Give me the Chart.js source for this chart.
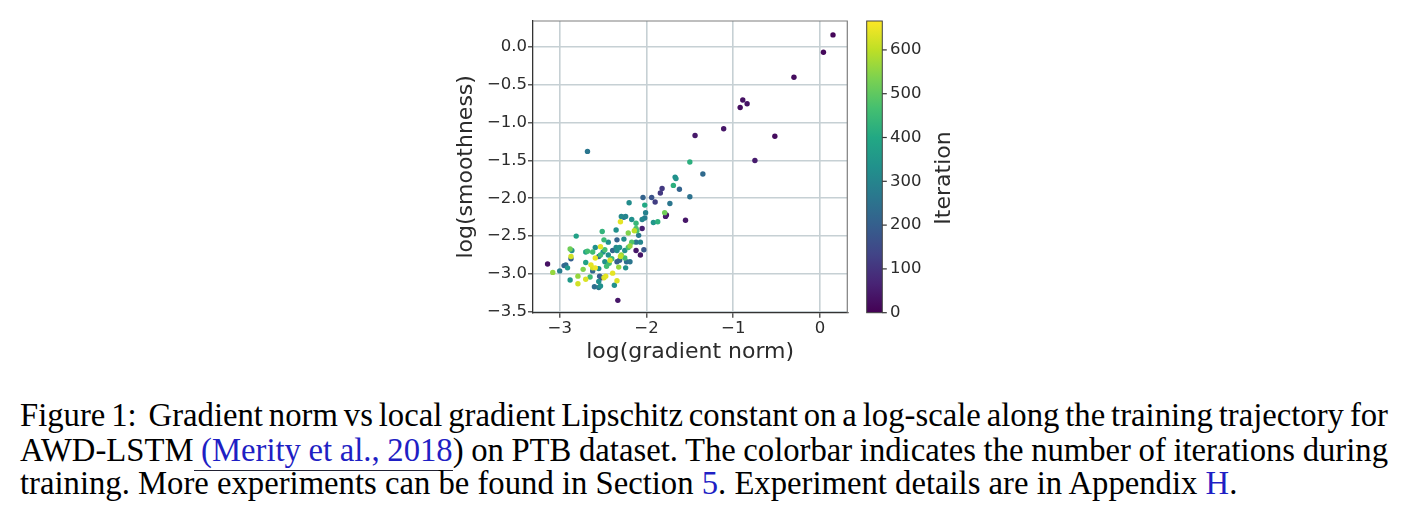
<!DOCTYPE html>
<html>
<head>
<meta charset="utf-8">
<script src="https://cdn.jsdelivr.net/npm/chart.js@4.4.0/dist/chart.umd.min.js"></script>
<style>
  body { margin: 0; background: #fff; width: 1408px; height: 507px; overflow: hidden; position: relative; }
  #wrap { position: absolute; left: 0; top: 0; width: 1408px; height: 380px; }
  .cap { position: absolute; left: 20px; width: 1368px; font-family: "Liberation Serif", "Times New Roman", serif;
         font-size: 32.7px; line-height: 34.5px; color: #000; }
  .j { text-align: justify; text-align-last: justify; word-spacing: -3px; }
  .lk { color: #1f1fc4; border-bottom: 1px solid #223; padding-bottom: 2px; }
  .b { color: #1f1fc4; }
</style>
</head>
<body>
<div id="wrap"><canvas id="chart" width="1408" height="380"></canvas></div>
<div class="cap j" style="top:397.7px">Figure 1:&nbsp; Gradient norm vs local gradient Lipschitz constant on a log-scale along the training trajectory for</div>
<div class="cap j" style="top:432.7px">AWD-LSTM<span class="lk"> (Merity et al., 2018</span>) on PTB dataset. The colorbar indicates the number of iterations during</div>
<div class="cap" style="top:466.2px">training. More experiments can be found in Section <span class="b">5</span>. Experiment details are in Appendix <span class="b">H</span>.</div>
<script>
// data: log(gradient norm), log(smoothness), iteration
let gradNorm = [
  0.15, 0.04, -0.30, -0.89, -0.92, -0.84, -1.11, -1.44, -0.52, -0.75, -2.68, -1.50, -1.35,
  -1.67, -1.66, -1.69, -1.62, -1.82, -1.84, -1.50, -2.04, -1.94, -1.90, -1.73, -2.20, -2.02,
  -2.01, -1.79, -1.77, -1.78, -1.55, -1.87, -1.92, -2.02, -2.05, -2.17, -2.29, -2.26, -2.24,
  -2.30, -2.12, -2.12, -2.14, -2.11, -2.05, -2.35, -2.51, -2.21, -2.09, -2.81, -2.34, -2.26,
  -2.44, -2.49, -2.17, -2.12, -2.07, -2.19, -2.21, -2.12, -2.07, -2.03, -2.35, -2.31, -2.39,
  -2.34, -2.29, -2.25, -2.23, -2.19, -2.88, -2.86, -2.87, -2.87, -2.70, -2.68, -2.62, -2.59,
  -2.53, -2.50, -2.48, -2.59, -2.55, -2.53, -2.42, -2.40, -2.48, -2.46, -2.43, -2.34, -2.32,
  -2.24, -2.73, -2.70, -2.64, -2.62, -2.59, -2.55, -2.62, -2.54, -2.52, -2.49, -2.47, -2.39,
  -2.34, -2.37, -3.14, -3.08, -3.00, -2.95, -2.93, -2.91, -2.88, -2.79, -2.79, -2.70, -2.65,
  -2.60, -2.55, -2.53, -2.55, -2.33, -2.44, -2.31, -2.30, -2.25
];
let smoothness = [
  0.16, -0.07, -0.40, -0.70, -0.80, -0.75, -1.08, -1.17, -1.18, -1.50, -1.38, -1.52, -1.68,
  -1.72, -1.74, -1.83, -1.88, -1.87, -1.93, -1.98, -1.99, -1.99, -2.05, -2.07, -2.06, -2.09,
  -2.19, -2.19, -2.22, -2.24, -2.29, -2.31, -2.32, -2.26, -2.28, -2.28, -2.24, -2.25, -2.24,
  -2.31, -2.33, -2.40, -2.43, -2.43, -2.40, -2.42, -2.44, -2.46, -2.49, -2.50, -2.55, -2.54,
  -2.58, -2.55, -2.58, -2.58, -2.58, -2.63, -2.65, -2.69, -2.75, -2.68, -2.65, -2.65, -2.69,
  -2.69, -2.75, -2.79, -2.84, -2.84, -2.67, -2.69, -2.77, -2.80, -2.71, -2.70, -2.71, -2.65,
  -2.64, -2.71, -2.68, -2.79, -2.77, -2.75, -2.82, -2.80, -2.84, -2.90, -2.86, -2.84, -2.91,
  -2.92, -2.94, -2.85, -2.88, -2.92, -2.92, -2.93, -2.96, -3.03, -3.05, -3.05, -3.03, -2.99,
  -3.09, -3.15, -2.87, -2.98, -2.96, -2.89, -2.88, -2.92, -3.08, -3.03, -3.13, -3.07, -3.04,
  -3.17, -3.18, -3.16, -3.10, -3.35, -2.75, -2.82, -2.77, -2.69
];
let iteration = [
  10, 15, 20, 30, 25, 35, 40, 45, 20, 50, 260, 420, 230,
  330, 340, 420, 210, 110, 110, 250, 210, 170, 120, 260, 320, 400,
  290, 520, 30, 50, 40, 420, 350, 280, 300, 330, 310, 230, 300,
  640, 440, 480, 600, 470, 60, 330, 430, 540, 270, 380, 210, 320,
  330, 450, 480, 270, 300, 560, 470, 40, 40, 180, 320, 340, 220,
  330, 560, 460, 240, 260, 520, 330, 620, 200, 380, 460, 460, 330,
  640, 330, 470, 640, 230, 450, 620, 450, 330, 460, 460, 200, 560,
  330, 540, 380, 640, 620, 650, 330, 220, 200, 60, 630, 640, 640,
  630, 330, 30, 560, 280, 220, 230, 350, 360, 560, 620, 630, 450,
  240, 270, 330, 330, 40, 330, 210, 600, 330
];
let xTicksRange = [-3.308, 0.315];
let yTicksRange = [-3.513, 0.344];
let iterRange = [0, 666];

// viridis colormap anchors (0, 0.1, ... 1)
const viridisStops = ['#440154', '#482475', '#414487', '#355f8d', '#2a788e', '#21918c',
                      '#22a884', '#44bf70', '#7ad151', '#bddf26', '#fde725'];

function hexToRgb(h) {
    return [parseInt(h.substr(1, 2), 16), parseInt(h.substr(3, 2), 16), parseInt(h.substr(5, 2), 16)];
}

function viridis(v) {
    let t = Math.min(1, Math.max(0, (v - iterRange[0]) / (iterRange[1] - iterRange[0])));
    let p = t * 10;
    let i = Math.min(9, Math.floor(p));
    let f = p - i;
    let a = hexToRgb(viridisStops[i]);
    let b = hexToRgb(viridisStops[i + 1]);
    let c = a.map((ai, k) => Math.round(ai + (b[k] - ai) * f));
    return `rgb(${c[0]},${c[1]},${c[2]})`;
}

// draw later iterations on top, like the original scatter
let order = iteration.map((v, i) => i).sort((a, b) => iteration[a] - iteration[b]);
let points = order.map(i => ({ x: gradNorm[i], y: smoothness[i] }));
let colors = order.map(i => viridis(iteration[i]));

function minusFmt(v, digits) {
    let s = Math.abs(v).toFixed(digits);
    return (v < -1e-9 ? '\u2212' : '') + s;
}

const textColor = '#2b2b2b';
const gridColor = '#c6d0d4';

// colorbar, frame and colorbar label
const extras = {
    id: 'extras',
    afterDraw(chart) {
        const { ctx, chartArea } = chart;
        const cb = chart.scales.cb;
        // top/right frame in lighter grey
        ctx.save();
        ctx.strokeStyle = '#7f7f7f';
        ctx.lineWidth = 1.2;
        ctx.beginPath();
        ctx.moveTo(chartArea.left, chartArea.top);
        ctx.lineTo(chartArea.right, chartArea.top);
        ctx.lineTo(chartArea.right, chartArea.bottom);
        ctx.stroke();

        // colorbar
        let x0 = cb.left + 19.4, x1 = cb.left + 35;
        let grad = ctx.createLinearGradient(0, cb.getPixelForValue(iterRange[0]), 0, cb.getPixelForValue(iterRange[1]));
        viridisStops.forEach((c, i) => grad.addColorStop(i / 10, c));
        ctx.fillStyle = grad;
        ctx.fillRect(x0, cb.top, x1 - x0, cb.bottom - cb.top);
        ctx.strokeStyle = '#444';
        ctx.lineWidth = 1;
        ctx.strokeRect(x0, cb.top, x1 - x0, cb.bottom - cb.top);
        ctx.strokeStyle = '#333';
        ctx.lineWidth = 1.2;
        cb.ticks.forEach(t => {
            let y = cb.getPixelForValue(t.value);
            ctx.beginPath();
            ctx.moveTo(x1, y);
            ctx.lineTo(x1 + 4.5, y);
            ctx.stroke();
        });

        // colorbar label, reads bottom to top
        ctx.translate(950, 178);
        ctx.rotate(-Math.PI / 2);
        ctx.fillStyle = textColor;
        ctx.font = '22px "DejaVu Sans"';
        ctx.textAlign = 'center';
        ctx.textBaseline = 'alphabetic';
        ctx.fillText('Iteration', 0, 0);
        ctx.restore();
    }
};

new Chart(document.getElementById('chart'), {
    type: 'scatter',
    data: {
        datasets: [{
            data: points,
            yAxisID: 'y',
            pointBackgroundColor: colors,
            pointBorderWidth: 0,
            pointRadius: 2.7,
            pointHoverRadius: 2.7
        }]
    },
    options: {
        responsive: false,
        animation: false,
        layout: { padding: { left: 443, right: 440.7, top: 21, bottom: 0 } },
        plugins: { legend: { display: false }, tooltip: { enabled: false } },
        scales: {
            x: {
                type: 'linear',
                min: xTicksRange[0],
                max: xTicksRange[1],
                afterFit(scale) { scale.height = 67.3; },
                ticks: {
                    stepSize: 1,
                    includeBounds: false,
                    padding: 1,
                    color: textColor,
                    font: { family: 'DejaVu Sans', size: 16.5 },
                    callback: v => minusFmt(v, 0)
                },
                grid: { color: gridColor, lineWidth: 1.6, tickColor: '#333', tickLength: 5, tickWidth: 1.2 },
                border: { color: '#333', width: 1.3 },
                title: {
                    display: true,
                    text: 'log(gradient norm)',
                    color: textColor,
                    font: { family: 'DejaVu Sans', size: 22 },
                    padding: { top: 0, bottom: 14.8 }
                }
            },
            y: {
                type: 'linear',
                min: yTicksRange[0],
                max: yTicksRange[1],
                afterFit(scale) { scale.width = 90; },
                ticks: {
                    stepSize: 0.5,
                    includeBounds: false,
                    padding: 1,
                    color: textColor,
                    font: { family: 'DejaVu Sans', size: 16.5 },
                    callback: v => minusFmt(v, 1)
                },
                grid: { color: gridColor, lineWidth: 1.6, tickColor: '#333', tickLength: 5, tickWidth: 1.2 },
                border: { color: '#333', width: 1.3 },
                title: {
                    display: true,
                    text: 'log(smoothness)',
                    color: textColor,
                    font: { family: 'DejaVu Sans', size: 22 },
                    padding: { top: 10.5, bottom: 0 }
                }
            },
            cb: {
                type: 'linear',
                axis: 'y',
                position: 'right',
                min: iterRange[0],
                max: iterRange[1],
                // the label gap is big, keep it from pushing the plot area in
                afterFit(scale) { scale.width = 120; scale.paddingTop = 0; scale.paddingBottom = 0; },
                ticks: {
                    stepSize: 100,
                    includeBounds: false,
                    padding: 42.7,
                    color: textColor,
                    font: { family: 'DejaVu Sans', size: 16.5 }
                },
                grid: { drawOnChartArea: false, drawTicks: false },
                border: { display: false }
            }
        }
    },
    plugins: [extras]
});
</script>
</body>
</html>
